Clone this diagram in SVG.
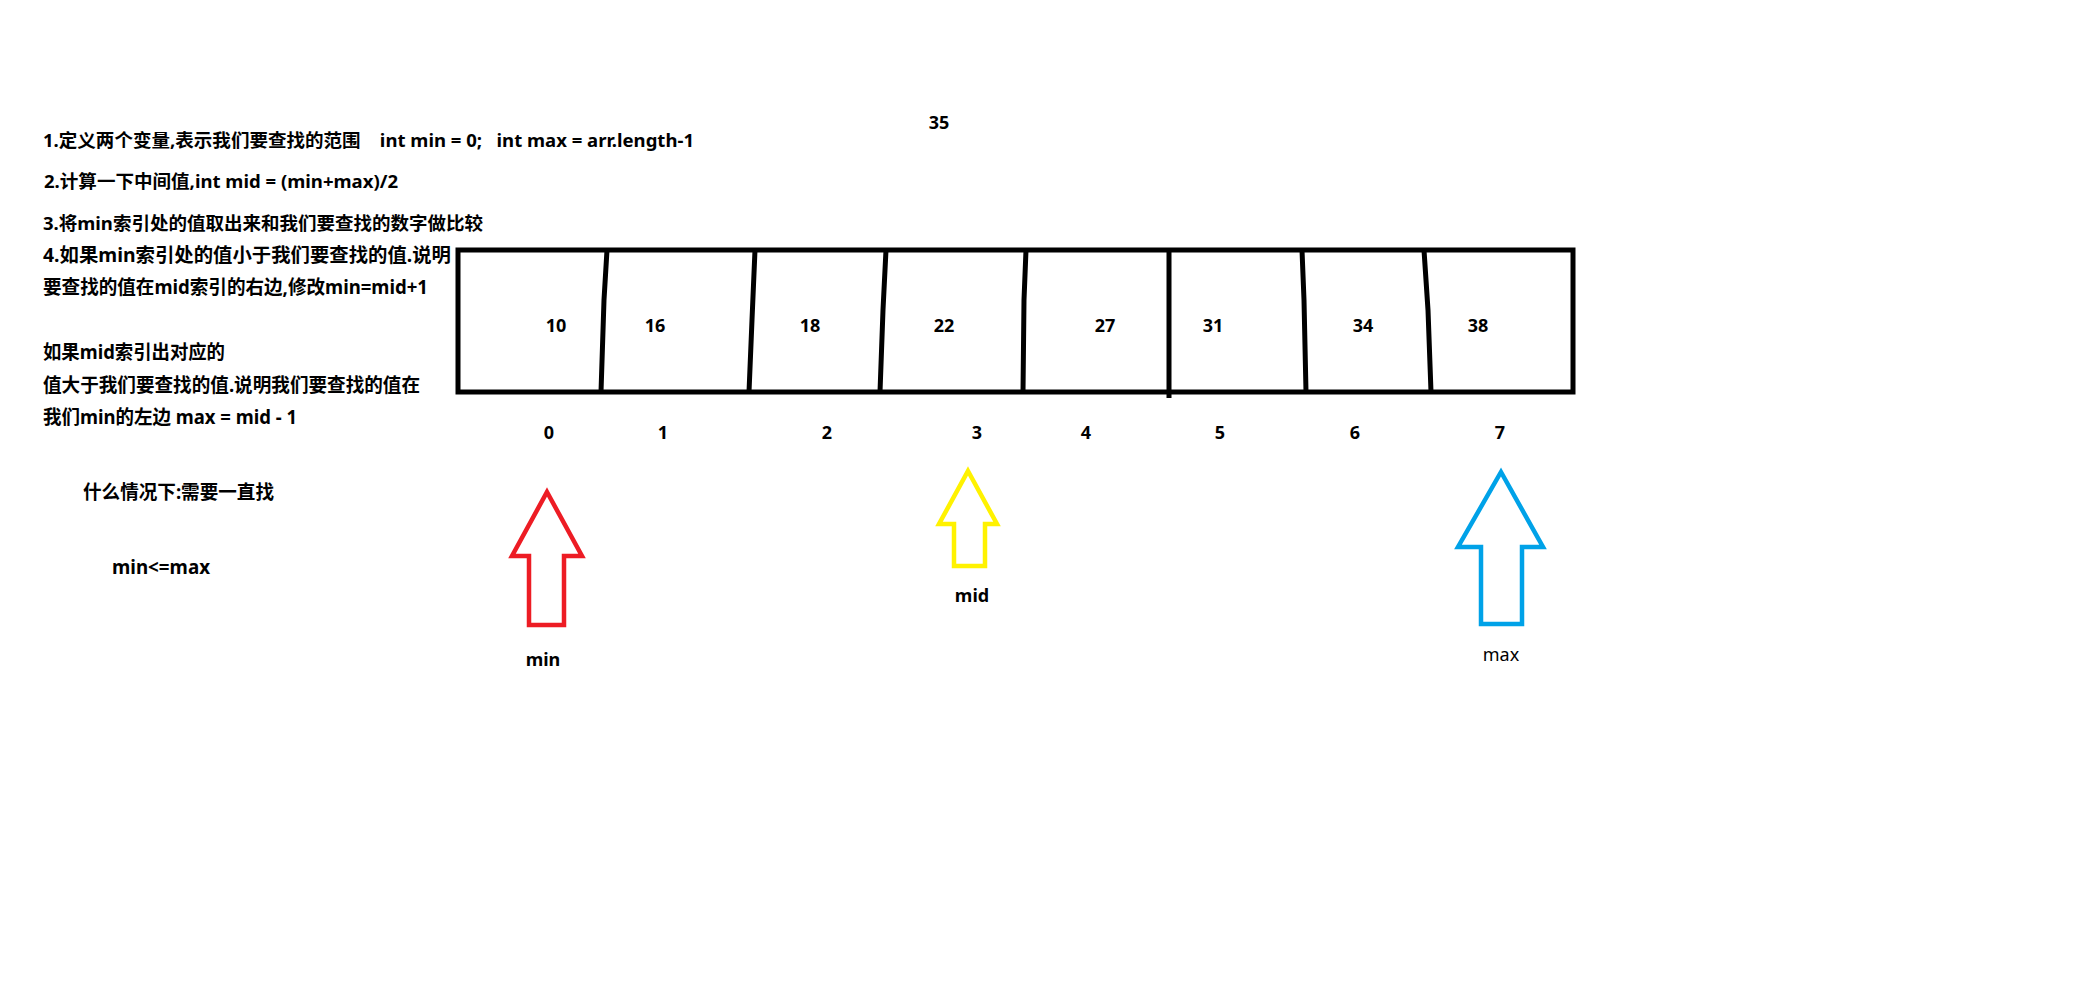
<svg xmlns="http://www.w3.org/2000/svg" width="2100" height="1000" viewBox="0 0 2100 1000">
<style>
text{font-family:"Noto Sans","Noto Sans CJK SC",sans-serif;font-weight:bold;fill:#000;white-space:pre;}
.note{font-size:18px;}
.note2{font-size:19px;}
.val{font-size:18px;text-anchor:middle;}
.idx{font-size:18px;text-anchor:middle;}
.lbl{font-size:18px;text-anchor:middle;}
.box{fill:none;stroke:#000;stroke-width:5;stroke-linejoin:miter;}
.div{fill:none;stroke:#000;stroke-width:5;stroke-linecap:butt;}
.arrow{fill:none;stroke-width:4.5;stroke-linejoin:miter;}
</style>
<rect width="2100" height="1000" fill="#fff"/>
<g id="notes">
<text class="note" xml:space="preserve" x="43" y="147" textLength="651" lengthAdjust="spacingAndGlyphs">1.定义两个变量,表示我们要查找的范围    int min = 0;   int max = arr.length-1</text>
<text class="note" x="44" y="188" textLength="354" lengthAdjust="spacingAndGlyphs">2.计算一下中间值,int mid = (min+max)/2</text>
<text class="note" x="43" y="230" textLength="440" lengthAdjust="spacingAndGlyphs">3.将min索引处的值取出来和我们要查找的数字做比较</text>
<text class="note2" x="43" y="262" textLength="408" lengthAdjust="spacingAndGlyphs">4.如果min索引处的值小于我们要查找的值.说明</text>
<text class="note2" x="43" y="294" textLength="385" lengthAdjust="spacingAndGlyphs">要查找的值在mid索引的右边,修改min=mid+1</text>
<text class="note2" x="43" y="359" textLength="182" lengthAdjust="spacingAndGlyphs">如果mid索引出对应的</text>
<text class="note2" x="43" y="392" textLength="377" lengthAdjust="spacingAndGlyphs">值大于我们要查找的值.说明我们要查找的值在</text>
<text class="note2" x="43" y="424" textLength="254" lengthAdjust="spacingAndGlyphs">我们min的左边 max = mid - 1</text>
<text class="note2" x="83" y="499" textLength="191" lengthAdjust="spacingAndGlyphs">什么情况下:需要一直找</text>
<text class="note2" x="112" y="574" textLength="98" lengthAdjust="spacingAndGlyphs">min&lt;=max</text>
<text class="note" x="939" y="129" text-anchor="middle">35</text>
</g>
<g id="array">
<rect class="box" x="458" y="250" width="1115" height="142"/>
<polyline class="div" points="607,250 604,300 601,392"/>
<polyline class="div" points="755,250 752,320 749,392"/>
<polyline class="div" points="886,250 883,310 880,392"/>
<polyline class="div" points="1026,250 1024,300 1023,392"/>
<polyline class="div" points="1169,250 1169,398"/>
<polyline class="div" points="1302,250 1304,300 1306,392"/>
<polyline class="div" points="1424,250 1428,310 1431,392"/>
</g>
<g id="values">
<text class="val" x="556" y="332">10</text>
<text class="val" x="655" y="332">16</text>
<text class="val" x="810" y="332">18</text>
<text class="val" x="944" y="332">22</text>
<text class="val" x="1105" y="332">27</text>
<text class="val" x="1213" y="332">31</text>
<text class="val" x="1363" y="332">34</text>
<text class="val" x="1478" y="332">38</text>
</g>
<g id="indices">
<text class="idx" x="549" y="439">0</text>
<text class="idx" x="663" y="439">1</text>
<text class="idx" x="827" y="439">2</text>
<text class="idx" x="977" y="439">3</text>
<text class="idx" x="1086" y="439">4</text>
<text class="idx" x="1220" y="439">5</text>
<text class="idx" x="1355" y="439">6</text>
<text class="idx" x="1500" y="439">7</text>
</g>
<g id="connectors">
<g id="ptr-min">
<polygon class="arrow" stroke="#ED1C24" points="547,492 582,556 564,556 564,625 529,625 529,556 512,556"/>
<text class="lbl" x="543" y="666">min</text>
</g>
<g id="ptr-mid">
<polygon class="arrow" stroke="#FFF200" points="968,471 997,524 985,524 985,566 954,566 954,524 939,524"/>
<text class="lbl" x="972" y="602">mid</text>
</g>
<g id="ptr-max">
<polygon class="arrow" stroke="#00A2E8" points="1501,472 1543,547 1522,547 1522,624 1481,624 1481,547 1458,547"/>
<text class="lbl" x="1501" y="661" style="font-weight:normal">max</text>
</g>
</g>
</svg>
